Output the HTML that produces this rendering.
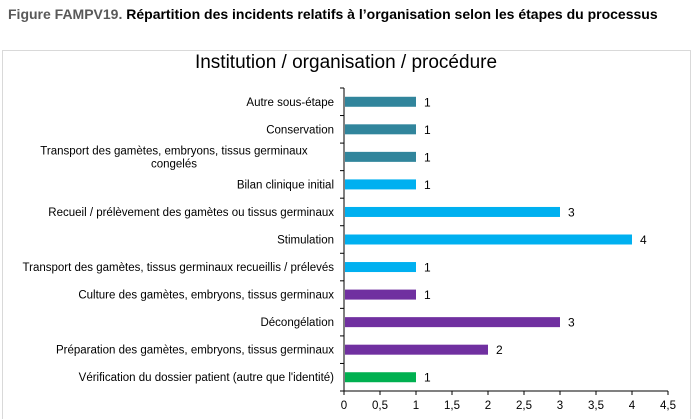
<!DOCTYPE html>
<html><head><meta charset="utf-8"><style>
body{margin:0;width:692px;height:420px;background:#fff;font-family:"Liberation Sans",Arial,sans-serif;overflow:hidden;position:relative}
#hdr{position:absolute;left:8px;top:6px;font-size:14px;font-weight:bold;color:#000;white-space:nowrap}
#hdr span{color:#595959}
#box{position:absolute;left:2px;top:50px;width:687px;height:368px;border:1px solid #d9d9d9;border-bottom:none}
svg{position:absolute;left:0;top:0}
</style></head><body>
<div id="hdr"><span>Figure FAMPV19.</span> Répartition des incidents relatifs à l’organisation selon les étapes du processus</div>
<div id="box"></div>
<svg id="chart" width="692" height="420">
<text x="346" y="68" text-anchor="middle" font-size="19" fill="#000">Institution / organisation / procédure</text>
</svg>
<script>
const categories=[["Autre sous-étape"],["Conservation"],["Transport des gamètes, embryons, tissus germinaux","congelés"],["Bilan clinique initial"],["Recueil / prélèvement des gamètes ou tissus germinaux"],["Stimulation"],["Transport des gamètes, tissus germinaux recueillis / prélevés"],["Culture des gamètes, embryons, tissus germinaux"],["Décongélation"],["Préparation des gamètes, embryons, tissus germinaux"],["Vérification du dossier patient (autre que l'identité)"]];
const values=[1,1,1,1,3,4,1,1,3,2,1];
const groups=["c","c","c","b","b","b","b","p","p","p","g"];
const tickLabels=["0","0,5","1","1,5","2","2,5","3","3,5","4","4,5"];
const tickValues=[0,0.5,1,1.5,2,2.5,3,3.5,4,4.5];
const colors={c:"#31859C",b:"#00B0F0",p:"#7030A0",g:"#00B050"};
const NS="http://www.w3.org/2000/svg",svgEl=document.getElementById("chart");
const x0=344,x1=668,yTop=88,yBot=391,xmax=4.5;
const xs=v=>x0+(v/xmax)*(x1-x0);
const band=(yBot-yTop)/categories.length;
const yc=i=>yTop+band*(i+0.5);
function mk(t,a){const e=document.createElementNS(NS,t);for(const k in a)e.setAttribute(k,a[k]);svgEl.appendChild(e);return e;}
let ax=mk("line",{x1:x0,y1:yTop,x2:x0,y2:yBot,stroke:"#000"});


let bx=mk("line",{x1:x0,y1:yBot,x2:x1,y2:yBot,stroke:"#000"});


for(let i=0;i<=categories.length;i++){let t=mk("line",{x1:x0-4,x2:x0,y1:yTop+band*i,y2:yTop+band*i,stroke:"#000"});

}
tickValues.forEach((v,i)=>{let t=mk("line",{x1:xs(v),x2:xs(v),y1:yBot,y2:yBot+4,stroke:"#000"});


let l=mk("text",{x:xs(v),y:yBot+18,"text-anchor":"middle","font-size":"11.5",fill:"#000"});l.textContent=tickLabels[i];

});
categories.forEach((c,i)=>{const y=yc(i);
let r=mk("rect",{x:x0+1,y:y-5,width:xs(values[i])-x0-1,height:10,fill:colors[groups[i]]});


let v=mk("text",{x:xs(values[i])+8,y:y+4.5,"font-size":"12",fill:"#000"});v.textContent=values[i];


const n=c.length;
c.forEach((line,j)=>{let t=mk("text",{x:n==1?x0-10:(x0-10+10)/2+2,y:y+4-(n-1)*6.5+j*13,"text-anchor":n==1?"end":"middle","font-size":"11.5",fill:"#000"});
t.textContent=line;

});
});
</script>
</body></html>
